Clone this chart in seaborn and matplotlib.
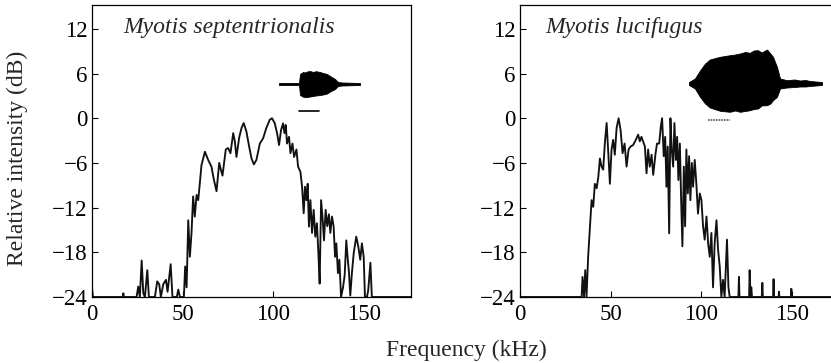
import matplotlib
matplotlib.use("Agg")
import matplotlib.pyplot as plt
import numpy as np
import pandas as pd
import seaborn as sns

# spectra (kHz, dB re peak)
sept_khz = [0, 0.5, 1.2, 2,
            17, 17.3, 17.6,
            24.6, 25.5, 26.4, 27.4, 28.3, 29.2, 30.5, 31.4,
            34.7, 36.0, 37.1, 38.0, 39.3, 40.8, 41.7, 43.4, 44.4, 46.8, 47.6, 48.5,
            50.7, 51.4, 52.2, 53.1, 54.0, 54.9, 55.8, 56.7, 57.7, 58.6, 59.5, 60.4,
            62.3, 64.1, 65.9, 67.2, 68.7, 70.2, 71.1, 72.0, 73.8, 75.1, 76.4, 77.9,
            78.8, 79.7, 81.2, 82.5, 83.7, 85.2, 86.7, 88.0, 89.3, 90.7, 92.6, 94.4,
            96.2, 98.1, 99.3, 100.8, 102.1, 103.2, 104.3, 105.4, 106.2, 106.9, 107.6, 108.7,
            109.5, 110.6, 111.5, 112.8, 113.7, 115.0, 115.9, 116.8, 117.5, 118.3, 119.0, 119.7,
            120.5, 121.4, 122.3, 123.2, 124.1, 124.9, 125.6, 126.4, 127.3, 128.0, 128.9, 129.8,
            130.7, 131.5, 132.4, 133.3, 134.1, 134.8, 135.7, 136.5, 137.4, 138.5, 139.4, 140.3,
            141.0, 141.8, 142.5, 143.4, 144.4, 145.8, 146.9, 148.0, 148.9, 149.9, 150.6, 151.7,
            152.4, 153.6, 154.4, 176]
sept_db = [-22.8, -24, -24, -24,
           -24, -23.5, -24,
           -24, -22.6, -24, -19.1, -23.5, -24, -20.4, -24,
           -24, -21.9, -22.3, -24, -22.3, -21.7, -23.3, -19.6, -24, -24, -23.0, -24,
           -24, -19.9, -22.7, -13.7, -18.6, -15.4, -10.5, -13.2, -10.3, -11.0, -8.7, -6.3,
           -4.5, -5.6, -6.5, -8.2, -9.8, -6.0, -6.9, -7.7, -4.2, -4.0, -4.7, -2.0,
           -3.1, -5.2, -2.6, -1.3, -0.65, -1.8, -3.8, -5.4, -6.2, -5.6, -3.4, -2.7,
           -1.3, -0.2, 0.0, -0.65, -2.0, -3.6, -1.6, -0.7, -2.0, -0.9, -3.4, -2.5,
           -4.7, -3.4, -5.2, -4.2, -6.5, -7.2, -9.2, -12.75, -9.2, -11.0, -8.8, -14.55,
           -11.0, -15.4, -12.3, -15.9, -14.1, -18.1, -22.2, -11.0, -13.7, -16.4, -12.3, -14.5,
           -12.9, -15.4, -13.2, -14.5, -18.6, -16.8, -20.8, -19.0, -24, -22.7, -21.1, -16.4,
           -18.6, -20.8, -23.8, -20.8, -18.1, -15.9, -17.2, -19.0, -16.8, -18.6, -24, -24,
           -23.1, -19.4, -24, -24]

luci_khz = [0, 34.0, 34.5, 35.3, 36.0, 36.7, 37.6, 38.6, 39.5, 40.4, 41.3, 42.3,
            43.2, 44.1, 45.0, 45.9, 46.8, 47.8, 48.7, 49.6, 50.5, 51.4, 52.3, 53.3,
            54.4, 55.5, 56.6, 57.7, 58.8, 59.9, 61.0, 62.4, 63.9, 65.2, 66.1, 67.0,
            67.9, 68.9, 69.8, 70.7, 71.6, 72.6, 73.5, 74.8, 75.6, 76.8, 77.7, 78.4,
            79.3, 80.1, 80.8, 81.5, 82.3, 83.0, 83.7, 84.5, 85.2, 86.0, 86.7, 87.4,
            88.2, 88.9, 89.6, 90.4, 91.1, 91.8, 92.6, 93.3, 94.0, 94.8, 95.5, 96.4,
            97.3, 98.2, 99.2, 100.1, 101.0, 101.9, 102.9, 103.8, 104.7, 105.6, 106.5, 107.4,
            108.4, 109.3, 110.2, 111.1, 112.0, 112.9, 114.2, 115.0, 115.7, 120.5, 120.8, 121.1,
            126.4, 126.7, 127.2, 127.6, 128.0, 133.4, 133.7, 134.0, 139.6, 139.9, 140.2, 142.7,
            142.9, 143.1, 149.5, 149.7, 149.9, 176]
luci_db = [-24, -24, -21.3, -24, -20.4, -24, -18.6, -14.55, -11.0, -11.9, -8.8, -9.4,
           -7.9, -5.4, -6.5, -6.9, -3.4, -0.65, -4.6, -8.8, -4.2, -2.9, -4.9, -1.3,
           0.0, -1.6, -4.7, -3.4, -6.5, -4.2, -3.8, -3.6, -2.9, -2.2, -3.1, -2.5,
           -3.1, -3.8, -7.4, -4.2, -6.5, -4.9, -7.6, -4.7, -3.4, -3.4, -1.1, 0.0,
           -5.1, -2.5, -9.2, -3.8, -15.45, 0.0, -4.2, -6.5, -0.65, -5.6, -2.5, -8.3,
           -3.4, -11.0, -17.2, -6.5, -14.5, -4.2, -10.1, -5.1, -11.0, -6.0, -9.2, -5.6,
           -8.8, -12.8, -10.1, -11.0, -14.5, -16.3, -13.2, -16.8, -18.6, -15.4, -22.7, -16.8,
           -13.7, -17.7, -19.9, -24, -21.7, -24, -16.3, -22.7, -24, -24, -21.3, -24,
           -24, -20.4, -24, -22.7, -24, -24, -22.1, -24, -24, -21.6, -24, -24,
           -23.3, -24, -24, -22.9, -24, -24]

# call envelopes for the insets (ms, relative amplitude)
sept_t = [0, 1.0, 1.05, 1.2, 1.3, 1.4, 1.55, 1.7, 1.85, 2.05, 2.2, 2.4, 2.55, 2.8, 2.95, 3.15, 4.05]
sept_up = [1, 1, 10, 12, 11.5, 12.5, 13, 12, 12.8, 12, 11, 10, 8, 5, 2, 1.5, 1]
sept_lo = [-1, -1, -11, -12.7, -13, -13, -12.5, -12, -11.5, -11, -10.5, -9.5, -7.5, -5, -2, -1.5, -1]

luci_t = [0, 0.27, 0.5, 0.73, 0.95, 1.41, 1.86, 2.1, 2.32, 2.55, 2.77, 2.95, 3.14, 3.3,
          3.55, 3.7, 3.82, 4.0, 4.14, 4.45, 4.8, 5.05, 5.3, 5.5, 6.05]
luci_up = [1.5, 5, 13, 20, 24, 26.7, 28.3, 29, 30, 31.5, 30.7, 33, 33.3, 31,
           34, 30, 26.7, 16.7, 5, 3.3, 4, 3, 3.5, 2.5, 1.5]
luci_lo = [-1.5, -5, -13.3, -20, -24, -27.3, -28.3, -27, -28.3, -27.5, -26.7, -25.5, -25, -22,
           -21.7, -20, -16.7, -13.3, -5, -4, -3.5, -3, -3, -2.5, -1.5]

W, H = 831, 363
sns.set_theme(style="ticks")
plt.rcParams["font.family"] = ["Liberation Serif", "DejaVu Serif"]
plt.rcParams["axes.linewidth"] = 0.9
plt.rcParams["axes.edgecolor"] = "black"

fig = plt.figure(figsize=(W / 100, H / 100), dpi=100)


def px_box(x0, y0, x1, y1):
    return [x0 / W, 1 - y1 / H, (x1 - x0) / W, (y1 - y0) / H]


panels = [
    (px_box(92, 5, 411, 297), sept_khz, sept_db),
    (px_box(520, 5, 839, 297), luci_khz, luci_db),
]
axes = []
for box, khz, db in panels:
    ax = fig.add_axes(box)
    df = pd.DataFrame({"kHz": khz, "dB": db})
    sns.lineplot(data=df, x="kHz", y="dB", ax=ax, color="#111111", lw=1.35,
                 sort=False, estimator=None)
    ax.set_xlim(0, 176)
    ax.set_ylim(-24, 15.2)
    ax.set_xticks([0, 50, 100, 150])
    ax.set_yticks([-24, -18, -12, -6, 0, 6, 12])
    ax.tick_params(direction="in", length=4.5, width=0.8, labelsize=16.5,
                   colors="black", pad=5)
    ax.tick_params(axis="y", pad=3)
    ax.set_xlabel("")
    ax.set_ylabel("")
    for s in ax.spines.values():
        s.set_visible(True)
        s.set_color("black")
    axes.append(ax)

axes[0].text(0.097, 0.904, "Myotis septentrionalis", transform=axes[0].transAxes,
             fontsize=17, style="italic", va="baseline", ha="left")
axes[1].text(0.078, 0.904, "Myotis lucifugus", transform=axes[1].transAxes,
             fontsize=17, style="italic", va="baseline", ha="left")

# oscillogram insets
ins1 = fig.add_axes(px_box(279, 60, 360, 115))
ins1.fill_between(sept_t, sept_lo, sept_up, color="black", lw=0.6)
ins1.plot([1.0, 2.0], [-26.7, -26.7], color="black", lw=1.2)
ins1.set_xlim(0, 4.05)
ins1.set_ylim(-31, 24)
ins1.axis("off")

ins2 = fig.add_axes(px_box(689, 45, 822, 125))
ins2.fill_between(luci_t, luci_lo, luci_up, color="black", lw=0.6)
ins2.plot([0.86, 1.86], [-36.5, -36.5], color="#555555", lw=1.2, ls=(0, (1, 0.6)))
ins2.set_xlim(0, 6.05)
ins2.set_ylim(-41.5, 38.5)
ins2.axis("off")

fig.text(17 / W, 1 - 158 / H, "Relative intensity (dB)", rotation=90,
         ha="center", va="center", fontsize=17)
fig.text(466 / W, 1 - 350 / H, "Frequency (kHz)", ha="center", va="center",
         fontsize=17)

fig.savefig("out.png", dpi=100)
